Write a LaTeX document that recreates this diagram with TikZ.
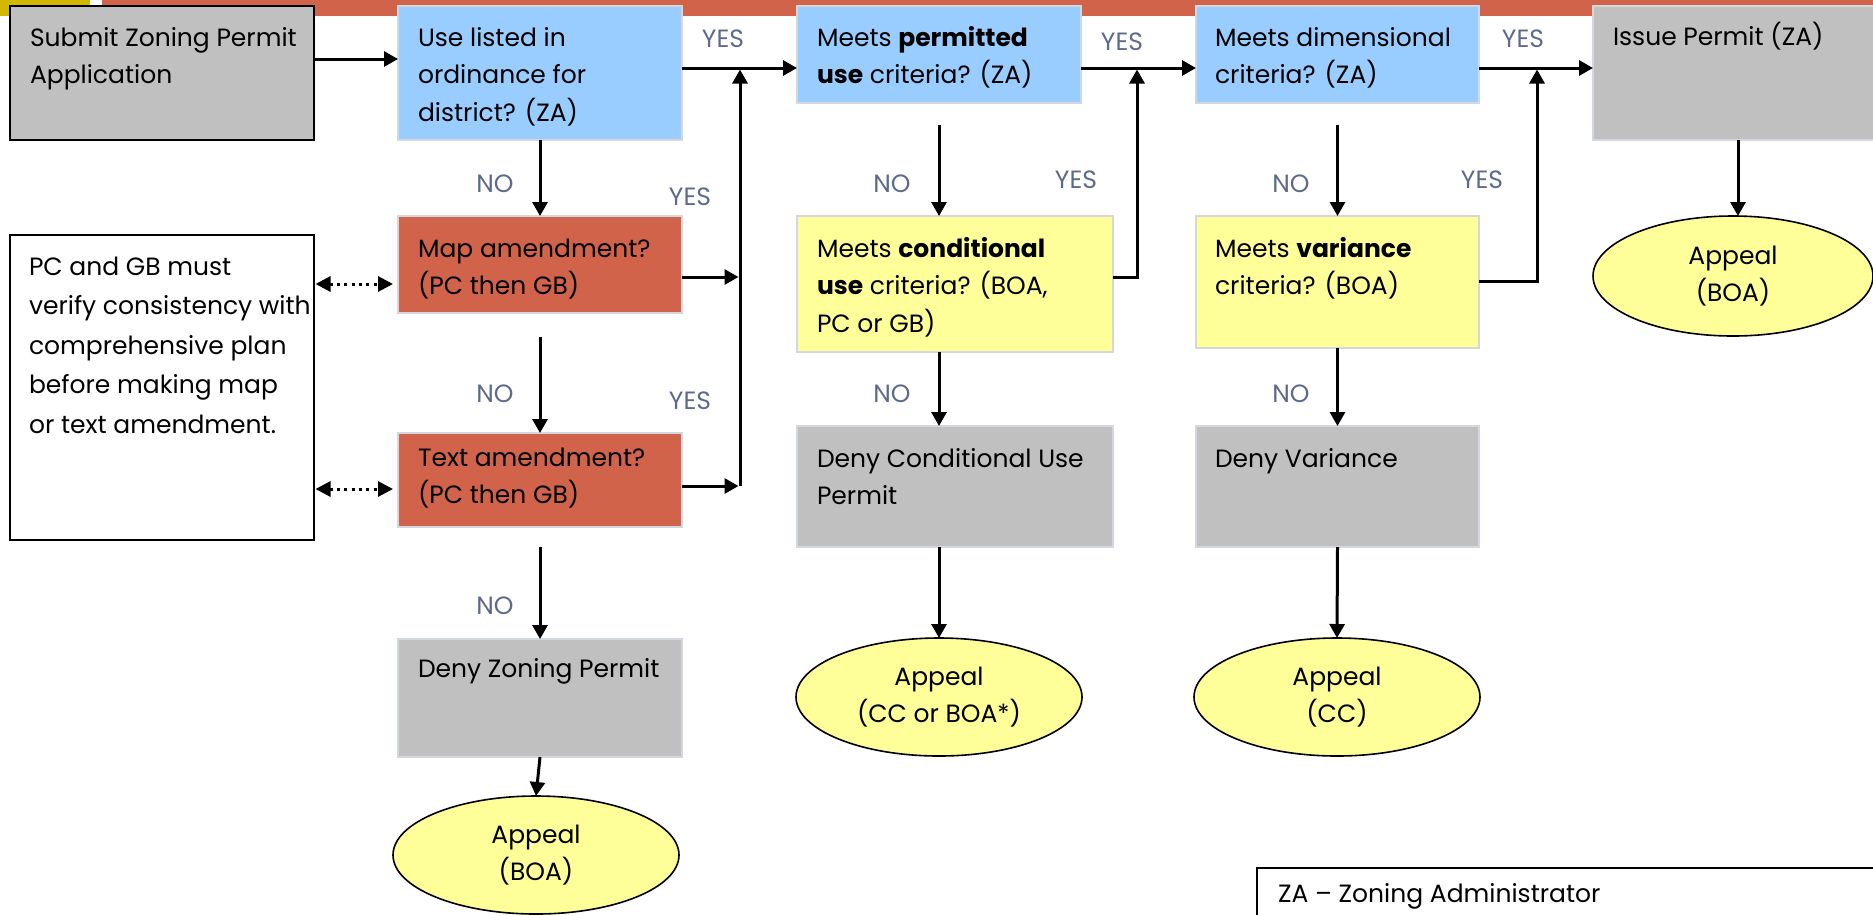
\documentclass[tikz,border=0pt]{standalone}
\usepackage{fontspec}
\setmainfont{Poppins}
\usetikzlibrary{arrows.meta,shapes.geometric}
\definecolor{gfill}{HTML}{C0C0C0}
\definecolor{bfill}{HTML}{99CCFF}
\definecolor{rfill}{HTML}{D1634A}
\definecolor{yfill}{HTML}{FFFF99}
\definecolor{yellowbar}{HTML}{D2B900}
\definecolor{lborder}{HTML}{D3D7DE}
\definecolor{lblcol}{HTML}{5E6A8A}
\newcommand\txtlines[2]{\parbox[t]{#1}{\raggedright #2}}
\begin{document}
\begin{tikzpicture}[x=1pt,y=-1pt,
  font=\fontsize{25}{37.5}\selectfont,
  boxbase/.style={rectangle, inner sep=0pt, outer sep=0pt, anchor=north west},
  graybox/.style={boxbase, fill=gfill, draw=lborder, line width=2pt},
  bluebox/.style={boxbase, fill=bfill, draw=lborder, line width=2pt},
  redbox/.style={boxbase, fill=rfill, draw=lborder, line width=2pt},
  yelbox/.style={boxbase, fill=yfill, draw=lborder, line width=2pt},
  blackbox/.style={boxbase, draw=black, line width=2.5pt},
  txt/.style={anchor=base west, inner sep=0pt, outer sep=0pt},
  ell/.style={ellipse, draw=black, line width=1.6pt, fill=yfill, inner sep=0pt, outer sep=0pt, align=center, minimum width=286pt, minimum height=118pt},
  lbl/.style={inner sep=0pt, text=lblcol},
  arr/.style={-{Triangle[length=14pt,width=15pt]}, line width=3pt},
  dotarr/.style={{Triangle[length=15pt,width=15pt]}-{Triangle[length=15pt,width=15pt]}, line width=3pt, dash pattern=on 3pt off 4.3pt}
]
\useasboundingbox (0,0) rectangle (1873,914);
% top bars
\fill[fill=yellowbar] (0,0) rectangle (90,16);
\fill[fill=rfill] (102,0) rectangle (1873,16);

% boxes
\node[graybox, fill=gfill, draw=black, line width=2.5pt, minimum width=304pt, minimum height=134pt] (submit) at (10,6) {};
\node[bluebox, minimum width=284pt, minimum height=134pt] (use) at (398,6) {};
\node[bluebox, minimum width=284pt, minimum height=97pt] (permitted) at (797,6) {};
\node[bluebox, minimum width=283pt, minimum height=97pt] (dimensional) at (1196,6) {};
\node[graybox, minimum width=290pt, minimum height=134pt] (issue) at (1593,6) {};

\node[blackbox, fill=white, minimum width=304pt, minimum height=305pt] (pc) at (10,235) {};
\node[redbox, minimum width=284pt, minimum height=97pt] (map) at (398,216) {};
\node[redbox, minimum width=284pt, minimum height=94pt] (text) at (398,433) {};
\node[graybox, minimum width=284pt, minimum height=118pt] (denyz) at (398,639) {};

\node[yelbox, minimum width=316pt, minimum height=136pt] (cond) at (797,216) {};
\node[graybox, minimum width=316pt, minimum height=121pt] (denyc) at (797,426) {};

\node[yelbox, minimum width=283pt, minimum height=132pt] (var) at (1196,216) {};
\node[graybox, minimum width=283pt, minimum height=121pt] (denyv) at (1196,426) {};

\node[blackbox, fill=white, minimum width=640pt, minimum height=70pt] (legend) at (1257,868) {};

% texts
\node[txt] (tsubmit) at (30,46) {\txtlines{280pt}{Submit Zoning Permit\\Application}};
\node[txt] (tuse) at (418,46) {\txtlines{260pt}{Use listed in\\ordinance for\\district? (ZA)}};
\node[txt] (tperm) at (817,46) {\txtlines{260pt}{Meets \textbf{permitted}\\\textbf{use} criteria? (ZA)}};
\node[txt] (tdim) at (1215,46) {\txtlines{260pt}{Meets dimensional\\criteria? (ZA)}};
\node[txt] (tissue) at (1613,45) {Issue Permit (ZA)};
\node[txt] (tpc) at (29,275) {\fontsize{25}{39.5}\selectfont\txtlines{285pt}{PC and GB must\\verify consistency with\\comprehensive plan\\before making map\\or text amendment.}};
\node[txt] (tmap) at (418,257) {\txtlines{260pt}{Map amendment?\\(PC then GB)}};
\node[txt] (ttext) at (418,466) {\txtlines{260pt}{Text amendment?\\(PC then GB)}};
\node[txt] (tdenyz) at (418,677) {Deny Zoning Permit};
\node[txt] (tcond) at (817,257) {\txtlines{290pt}{Meets \textbf{conditional}\\\textbf{use} criteria? (BOA,\\PC or GB)}};
\node[txt] (tdenyc) at (817,467) {\txtlines{290pt}{Deny Conditional Use\\Permit}};
\node[txt] (tvar) at (1215,257) {\txtlines{260pt}{Meets \textbf{variance}\\criteria? (BOA)}};
\node[txt] (tdenyv) at (1215,467) {Deny Variance};
\node[txt] (tlegend) at (1278,902) {ZA – Zoning Administrator};

% ellipses
\node[ell] (e1) at (536,855) {Appeal\\(BOA)};
\node[ell] (e2) at (939,697) {Appeal\\(CC or BOA*)};
\node[ell] (e3) at (1337,697) {Appeal\\(CC)};
\node[ell, minimum width=280pt, minimum height=120pt] (e4) at (1733,276) {Appeal\\(BOA)};

% labels
\node[lbl] (y1) at (723,39) {YES};
\node[lbl] (y2) at (1122,42) {YES};
\node[lbl] (y3) at (1523,39) {YES};
\node[lbl] (y4) at (690,197) {YES};
\node[lbl] (y5) at (690,401) {YES};
\node[lbl] (y6) at (1076,180) {YES};
\node[lbl] (y7) at (1482,180) {YES};
\node[lbl] (n1) at (495,184) {NO};
\node[lbl] (n2) at (495,394) {NO};
\node[lbl] (n3) at (495,606) {NO};
\node[lbl] (n4) at (892,184) {NO};
\node[lbl] (n5) at (892,394) {NO};
\node[lbl] (n6) at (1291,184) {NO};
\node[lbl] (n7) at (1291,394) {NO};

% junction coordinates
\coordinate (j0) at (0,59);
\coordinate (j1) at (740,68);
\coordinate (j2) at (1137,68);
\coordinate (j3) at (1537,68);
\coordinate (m1) at (740,277);
\coordinate (m2) at (740,486);
\coordinate (m3) at (1137,277);
\coordinate (m4) at (1537,281);
\coordinate (d1) at (393,284);
\coordinate (d2) at (393,489);

% main row
\draw[arr] (submit.east |- j0) -- (use.west |- j0);
\draw[arr] (use.east |- j1) -- (permitted.west |- j1);
\draw[arr] (permitted.east |- j2) -- (dimensional.west |- j2);
\draw[arr] (dimensional.east |- j3) -- (issue.west |- j3);

% yes returns
\draw[arr, shorten >=1.5pt] (map.east |- m1) -- (m1);
\draw[arr, shorten >=1.5pt] (text.east |- m2) -- (m2);
\draw[arr, shorten >=1.5pt] (m2) -- (j1);
\draw[arr, shorten >=1.5pt] (cond.east |- m3) -| (j2);
\draw[arr, shorten >=1.5pt] (var.east |- m4) -| (j3);

% column 1
\draw[arr] (use.south) -- (map.north);
\draw[arr, shorten <=24pt] (map.south) -- (text.north);
\draw[arr, shorten <=20pt] (text.south) -- (denyz.north);
\draw[arr] (denyz.south) -- (e1.north);
\draw[dotarr, shorten <=1.5pt] (pc.east |- d1) -- (d1);
\draw[dotarr, shorten <=1.5pt] (pc.east |- d2) -- (d2);

% column 2
\draw[arr, shorten <=22pt] (permitted.south) -- (permitted.south |- cond.north);
\draw[arr] (permitted.south |- cond.south) -- (permitted.south |- denyc.north);
\draw[arr] (permitted.south |- denyc.south) -- (e2.north);

% column 3
\draw[arr, shorten <=22pt] (dimensional.south) -- (var.north);
\draw[arr] (var.south) -- (denyv.north);
\draw[arr] (denyv.south) -- (e3.north);

% column 4
\draw[arr] (issue.south) -- (issue.south |- e4.north);
\end{tikzpicture}
\end{document}
